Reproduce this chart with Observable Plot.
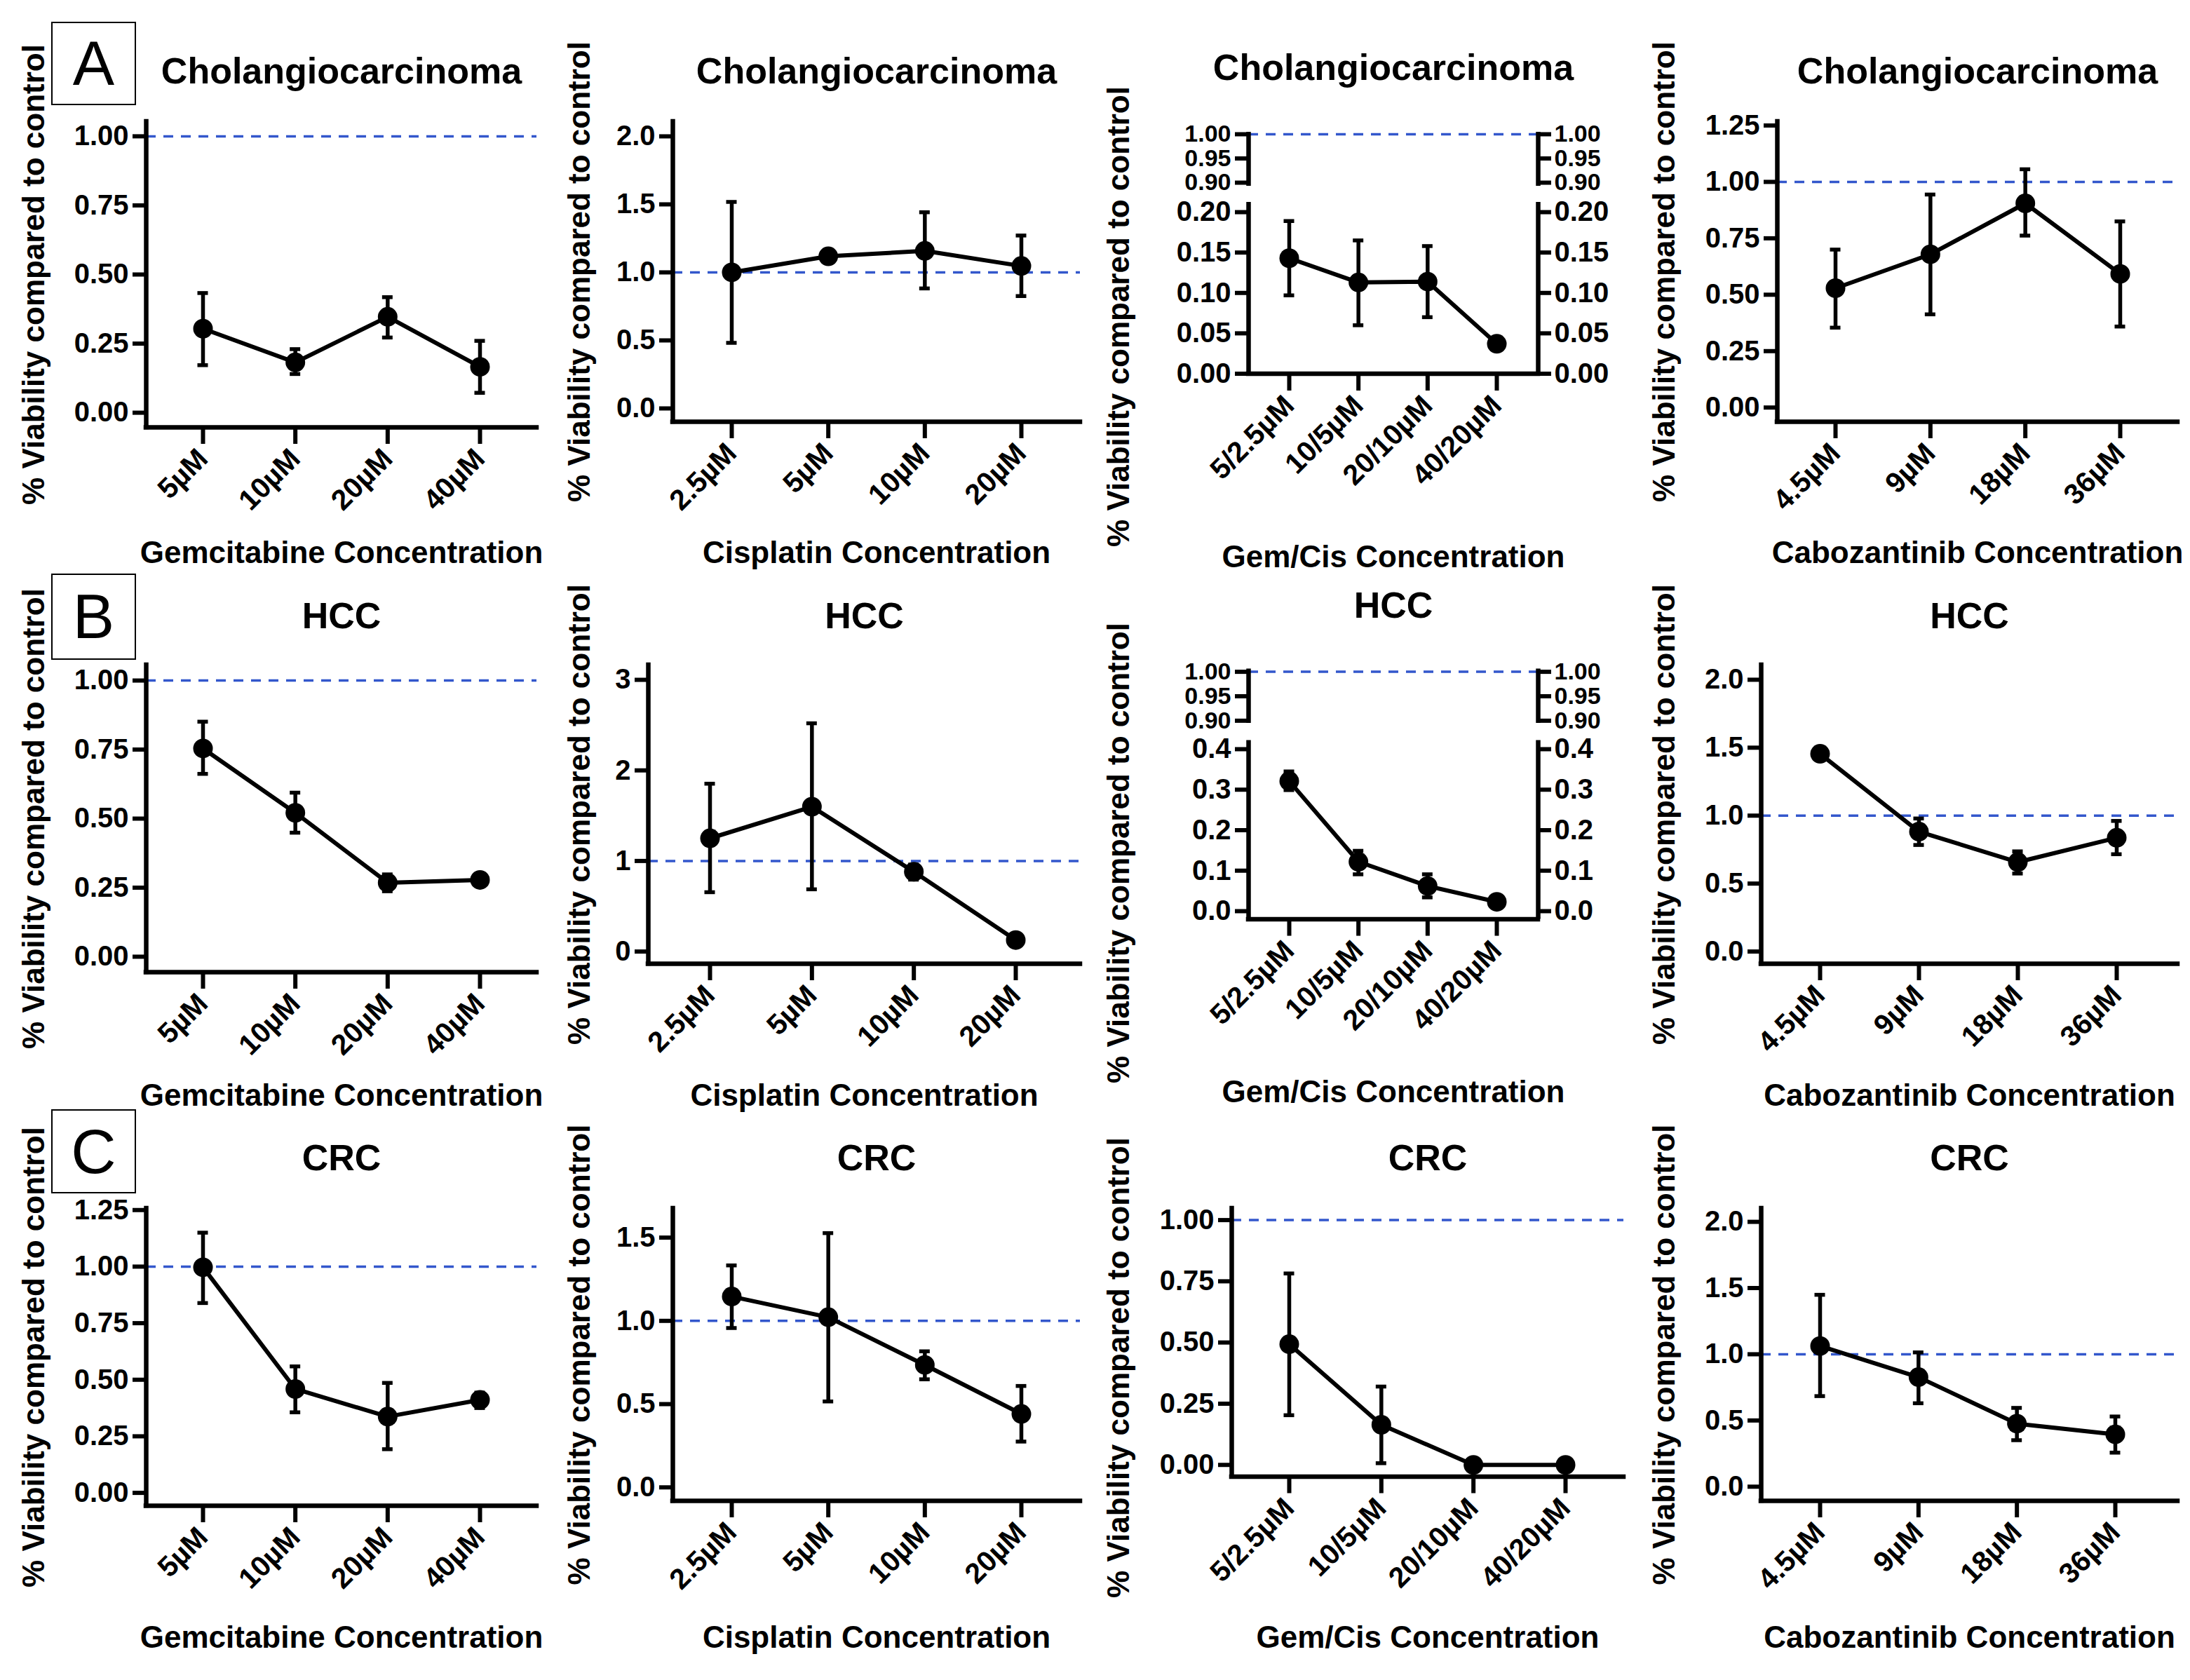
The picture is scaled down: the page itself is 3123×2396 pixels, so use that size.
<!DOCTYPE html>
<html>
<head>
<meta charset="utf-8">
<script src="https://cdn.jsdelivr.net/npm/d3@7"></script>
<script src="https://cdn.jsdelivr.net/npm/@observablehq/plot@0.6"></script>
<style>
  html, body { margin: 0; padding: 0; background: #fff; }
  #page { position: relative; width: 3123px; height: 2396px; background: #fff; overflow: hidden;
          font-family: "Liberation Sans", Arial, Helvetica, sans-serif; color: #000; }
  #page svg { position: absolute; background: transparent !important; max-width: none !important;
              overflow: visible; font-family: "Liberation Sans", Arial, Helvetica, sans-serif; font-weight: bold; color: #000; }
  .letter { position: absolute; box-sizing: border-box; border: 2px solid #000; display: flex;
            align-items: center; justify-content: center; font-size: 89px; line-height: 1; font-weight: normal; }
</style>
</head>
<body>
<div id="page"></div>
<script>
// ---------------- text ----------------
const yTitle = "% Viability compared to control";
const rowTitles = ["Cholangiocarcinoma", "HCC", "CRC"];
const panelLetters = ["A", "B", "C"];
const xTitles = ["Gemcitabine Concentration", "Cisplatin Concentration", "Gem/Cis Concentration", "Cabozantinib Concentration"];

// ---------------- categories ----------------
const gemLabels = ["5µM", "10µM", "20µM", "40µM"];
const cisLabels = ["2.5µM", "5µM", "10µM", "20µM"];
const comboLabels = ["5/2.5µM", "10/5µM", "20/10µM", "40/20µM"];
const caboLabels = ["4.5µM", "9µM", "18µM", "36µM"];

// ---------------- values (mean, lower, upper error) ----------------
// Cholangiocarcinoma
const cholGemMean = [0.304, 0.182, 0.347, 0.166];
const cholGemLow  = [0.172, 0.140, 0.272, 0.072];
const cholGemHigh = [0.433, 0.230, 0.418, 0.260];
const cholCisMean = [1.000, 1.118, 1.158, 1.047];
const cholCisLow  = [0.482, 1.100, 0.882, 0.826];
const cholCisHigh = [1.518, 1.135, 1.442, 1.271];
const cholComboMean = [0.143, 0.113, 0.114, 0.037];
const cholComboLow  = [0.097, 0.060, 0.070, 0.034];
const cholComboHigh = [0.189, 0.165, 0.158, 0.040];
const cholCaboMean = [0.529, 0.679, 0.905, 0.592];
const cholCaboLow  = [0.354, 0.413, 0.762, 0.359];
const cholCaboHigh = [0.700, 0.944, 1.056, 0.825];
// HCC
const hccGemMean = [0.754, 0.521, 0.268, 0.278];
const hccGemLow  = [0.662, 0.449, 0.237, 0.270];
const hccGemHigh = [0.851, 0.594, 0.298, 0.286];
const hccCisMean = [1.250, 1.599, 0.881, 0.127];
const hccCisLow  = [0.655, 0.687, 0.794, 0.110];
const hccCisHigh = [1.853, 2.520, 0.960, 0.145];
const hccComboMean = [0.321, 0.122, 0.062, 0.023];
const hccComboLow  = [0.299, 0.091, 0.034, 0.019];
const hccComboHigh = [0.345, 0.149, 0.091, 0.027];
const hccCaboMean = [1.455, 0.882, 0.658, 0.837];
const hccCaboLow  = [1.440, 0.784, 0.574, 0.716];
const hccCaboHigh = [1.470, 0.979, 0.737, 0.961];
// CRC
const crcGemMean = [0.997, 0.459, 0.337, 0.411];
const crcGemLow  = [0.839, 0.356, 0.193, 0.375];
const crcGemHigh = [1.150, 0.559, 0.486, 0.443];
const crcCisMean = [1.146, 1.022, 0.735, 0.441];
const crcCisLow  = [0.957, 0.516, 0.649, 0.275];
const crcCisHigh = [1.333, 1.527, 0.817, 0.609];
const crcComboMean = [0.493, 0.164, 0.000, 0.000];
const crcComboLow  = [0.203, 0.007, 0.000, 0.000];
const crcComboHigh = [0.782, 0.320, 0.000, 0.000];
const crcCaboMean = [1.062, 0.827, 0.476, 0.395];
const crcCaboLow  = [0.684, 0.630, 0.351, 0.257];
const crcCaboHigh = [1.449, 1.014, 0.595, 0.530];

// ---------------- y scale settings per panel ----------------
const q4 = [0, 0.25, 0.5, 0.75, 1];
const q5 = [0, 0.25, 0.5, 0.75, 1, 1.25];
const h2 = [0, 0.5, 1, 1.5, 2];
const upperTicks = [0.9, 0.95, 1];
const yScales = [
  {domain: [-0.053, 1.053], ticks: q4, fmt: ".2f"},
  {domain: [-0.098, 2.108], ticks: h2, fmt: ".1f"},
  {domain: [0, 0.2122, 0.8928, 1.0043], range: [532.5, 288, 265, 188], ticks: [0, 0.05, 0.1, 0.15, 0.2], fmt: ".2f"},
  {domain: [-0.063, 1.267], ticks: q5, fmt: ".2f"},
  {domain: [-0.056, 1.056], ticks: q4, fmt: ".2f"},
  {domain: [-0.135, 3.163], ticks: [0, 1, 2, 3], fmt: "d"},
  {domain: [-0.0201, 0.4216, 0.8948, 1.0059], range: [1310.6, 1055.5, 1031, 953.5], ticks: [0, 0.1, 0.2, 0.3, 0.4], fmt: ".1f"},
  {domain: [-0.090, 2.108], ticks: h2, fmt: ".1f"},
  {domain: [-0.057, 1.257], ticks: q5, fmt: ".2f"},
  {domain: [-0.081, 1.675], ticks: [0, 0.5, 1, 1.5], fmt: ".1f"},
  {domain: [-0.048, 1.0475], ticks: q4, fmt: ".2f"},
  {domain: [-0.107, 2.101], ticks: h2, fmt: ".1f"}
];

// ---------------- layout (page pixels) ----------------
const colX = [0, 780, 1560, 2340];
const colW = [780, 780, 780, 783];
const geom = [
  {left: 208, right: 765, top: 173, bottom: 609, t0: 289, t3: 684, title: 118, xlab: 802, ylabX: 48},
  {left: 959, right: 1540, top: 173, bottom: 601, t0: 1043, t3: 1456, title: 118, xlab: 802, ylabX: 826},
  {left: 1780, right: 2193, top: 188, bottom: 533, t0: 1838, t3: 2134, title: 113, xlab: 808, ylabX: 1595, ylabY: 451},
  {left: 2534, right: 3105, top: 173, bottom: 601, t0: 2617, t3: 3023, title: 118, xlab: 802, ylabX: 2373},
  {left: 208, right: 765, top: 948, bottom: 1386, t0: 289, t3: 684, title: 895, xlab: 1576, ylabX: 48},
  {left: 924, right: 1540, top: 948, bottom: 1374, t0: 1012, t3: 1448, title: 895, xlab: 1576, ylabX: 826},
  {left: 1780, right: 2193, top: 953.5, bottom: 1310.6, t0: 1838, t3: 2134, title: 880, xlab: 1571, ylabX: 1595, ylabY: 1216},
  {left: 2511, right: 3105, top: 948, bottom: 1374, t0: 2595, t3: 3018, title: 895, xlab: 1576, ylabX: 2373},
  {left: 208, right: 765, top: 1723, bottom: 2147, t0: 289, t3: 684, title: 1668, xlab: 2349, ylabX: 48},
  {left: 959, right: 1540, top: 1723, bottom: 2140, t0: 1043, t3: 1456, title: 1668, xlab: 2349, ylabX: 826},
  {left: 1756, right: 2315, top: 1723, bottom: 2105.5, t0: 1838, t3: 2232, title: 1668, xlab: 2349, ylabX: 1595, ylabY: 1950},
  {left: 2511, right: 3105, top: 1723, bottom: 2140, t0: 2595, t3: 3016, title: 1668, xlab: 2349, ylabX: 2373}
];
const letterBoxes = [
  {left: 73, top: 31, w: 121, h: 119},
  {left: 73, top: 818, w: 121, h: 123},
  {left: 73, top: 1582, w: 121, h: 120}
];

const panels = [
  [gemLabels, cholGemMean, cholGemLow, cholGemHigh],
  [cisLabels, cholCisMean, cholCisLow, cholCisHigh],
  [comboLabels, cholComboMean, cholComboLow, cholComboHigh],
  [caboLabels, cholCaboMean, cholCaboLow, cholCaboHigh],
  [gemLabels, hccGemMean, hccGemLow, hccGemHigh],
  [cisLabels, hccCisMean, hccCisLow, hccCisHigh],
  [comboLabels, hccComboMean, hccComboLow, hccComboHigh],
  [caboLabels, hccCaboMean, hccCaboLow, hccCaboHigh],
  [gemLabels, crcGemMean, crcGemLow, crcGemHigh],
  [cisLabels, crcCisMean, crcCisLow, crcCisHigh],
  [comboLabels, crcComboMean, crcComboLow, crcComboHigh],
  [caboLabels, crcCaboMean, crcCaboLow, crcCaboHigh]
];

const BLUE = "#3357cc";
const AXW = 6.5;
const TKW = 6;

const pageEl = document.getElementById("page");

letterBoxes.forEach((b, r) => {
  const d = document.createElement("div");
  d.className = "letter";
  d.style.left = b.left + "px"; d.style.top = b.top + "px";
  d.style.width = b.w + "px"; d.style.height = b.h + "px";
  d.textContent = panelLetters[r];
  pageEl.appendChild(d);
});

panels.forEach(([labels, mean, lo, hi], k) => {
  const row = Math.floor(k / 4), col = k % 4;
  const g = geom[k], ys = yScales[k];
  const svgLeft = colX[col], svgRight = colX[col] + colW[col];
  const svgTop = g.title - 80, svgBottom = g.xlab + 25;
  const W = svgRight - svgLeft, H = svgBottom - svgTop;
  const mL = g.left - svgLeft, mR = svgRight - g.right, mT = g.top - svgTop, mB = svgBottom - g.bottom;
  const sp = (g.t3 - g.t0) / 3;
  const xDomain = [(g.left - g.t0) / sp, (g.right - g.t0) / sp];
  const cap = 7.5 / sp;
  const data = labels.map((lab, i) => ({i, mean: mean[i], lo: lo[i], hi: hi[i]}));
  const broken = ys.domain.length > 2;
  const tickFormat = d3.format(ys.fmt), f2 = d3.format(".2f");
  const frameCY = (g.top + g.bottom) / 2;

  const marks = [];
  marks.push(Plot.ruleY([1], {stroke: BLUE, strokeWidth: 3.5, strokeDasharray: "14,11"}));
  if (broken) {
    const segs = [{y1: ys.domain[0], y2: ys.domain[1]}, {y1: ys.domain[2], y2: ys.domain[3]}];
    marks.push(Plot.ruleX(segs, {x: xDomain[0], y1: "y1", y2: "y2", strokeWidth: AXW}));
    marks.push(Plot.ruleX(segs, {x: xDomain[1], y1: "y1", y2: "y2", strokeWidth: AXW}));
  } else {
    marks.push(Plot.ruleX([xDomain[0]], {strokeWidth: AXW, strokeLinecap: "square"}));
  }
  marks.push(Plot.ruleY([ys.domain[0]], {strokeWidth: AXW, strokeLinecap: "square"}));
  marks.push(Plot.axisY({ticks: ys.ticks, tickFormat, tickSize: 19, tickPadding: 6, fontSize: 40, strokeWidth: TKW, label: null}));
  if (broken) {
    marks.push(Plot.axisY({ticks: upperTicks, tickFormat: f2, tickSize: 19, tickPadding: 6, fontSize: 34, strokeWidth: TKW, label: null}));
    marks.push(Plot.axisY({anchor: "right", ticks: ys.ticks, tickFormat, tickSize: 18, tickPadding: 5, fontSize: 40, strokeWidth: TKW, label: null}));
    marks.push(Plot.axisY({anchor: "right", ticks: upperTicks, tickFormat: f2, tickSize: 18, tickPadding: 5, fontSize: 34, strokeWidth: TKW, label: null}));
  }
  marks.push(Plot.axisX({ticks: [0, 1, 2, 3], tickFormat: i => labels[i], tickRotate: -45, tickSize: 24, tickPadding: 14, fontSize: 41, strokeWidth: TKW, label: null}));
  marks.push(Plot.line(data, {x: "i", y: "mean", stroke: "black", strokeWidth: 6}));
  marks.push(Plot.ruleX(data, {x: "i", y1: "lo", y2: "hi", stroke: "black", strokeWidth: 5.5}));
  marks.push(Plot.ruleY(data, {y: "hi", x1: d => d.i - cap, x2: d => d.i + cap, stroke: "black", strokeWidth: 5.5}));
  marks.push(Plot.ruleY(data, {y: "lo", x1: d => d.i - cap, x2: d => d.i + cap, stroke: "black", strokeWidth: 5.5}));
  marks.push(Plot.dot(data, {x: "i", y: "mean", r: 14, fill: "black", stroke: "none"}));
  marks.push(Plot.text([rowTitles[row]], {text: d => d, frameAnchor: "top", dy: g.title - g.top, textAnchor: "middle", lineAnchor: "bottom", fontSize: 52, fontWeight: "bold"}));
  marks.push(Plot.text([xTitles[col]], {text: d => d, frameAnchor: "bottom", dy: g.xlab - g.bottom, textAnchor: "middle", lineAnchor: "bottom", fontSize: 44, fontWeight: "bold"}));
  marks.push(Plot.text([yTitle], {text: d => d, frameAnchor: "left", rotate: -90, dx: g.ylabX - g.left, dy: (g.ylabY ?? frameCY) - frameCY, textAnchor: "middle", lineAnchor: "middle", fontSize: 44, fontWeight: "bold"}));

  const yOpts = broken
    ? {type: "linear", domain: ys.domain, range: ys.range.map(v => v - svgTop)}
    : {type: "linear", domain: ys.domain};

  const svg = Plot.plot({
    width: W, height: H,
    marginLeft: mL, marginRight: mR, marginTop: mT, marginBottom: mB,
    x: {type: "linear", domain: xDomain},
    y: yOpts,
    marks
  });
  svg.style.left = svgLeft + "px";
  svg.style.top = svgTop + "px";
  pageEl.appendChild(svg);
});
</script>
</body>
</html>
